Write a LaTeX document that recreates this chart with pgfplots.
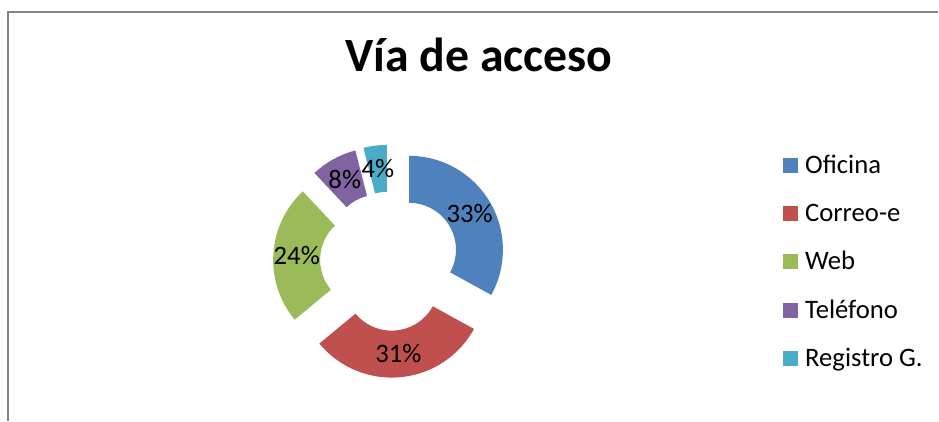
\documentclass[border=0pt]{standalone}
\usepackage{fontspec}
\setmainfont{Carlito}
\usepackage{pgfplots}
\usepackage{pgfplotstable}
\pgfplotsset{compat=1.18}
\definecolor{c0}{HTML}{4F81BD}
\definecolor{c1}{HTML}{C0504D}
\definecolor{c2}{HTML}{9BBB59}
\definecolor{c3}{HTML}{8064A2}
\definecolor{c4}{HTML}{4BACC6}
\definecolor{framegray}{HTML}{868686}
\pgfplotstableread{
value
33
31
24
8
4
}\datatable
\newcommand\lblfont{\fontsize{26.8}{31}\selectfont}
\begin{document}
\begin{tikzpicture}
\begin{axis}[
  scale only axis, width=939bp, height=421bp,
  xmin=0, xmax=939, ymin=0, ymax=421, y dir=reverse,
  hide axis, clip=false,
  title={Vía de acceso},
  title style={at={(0.5107,0.8147)}, anchor=base, font=\fontsize{48}{53}\selectfont\bfseries, inner sep=0pt},
  legend image code/.code={\fill[#1, draw=none] (0bp,-7.5bp) rectangle (15bp,7.5bp);},
  legend cell align=left,
  legend style={at={(axis cs:784,141.5)}, anchor=north west, draw=none, fill=none,
    inner sep=0pt, outer sep=0pt, font=\lblfont, row sep=0pt, column sep=7bp,
    nodes={inner sep=0pt, text height=32.15bp, text depth=16.15bp}},
]
\path (axis cs:0,0) rectangle (axis cs:939,421);
\draw[framegray, line width=2bp] (axis cs:7.7,421) -- (axis cs:7.7,12) -- (axis cs:939,12);
\def\startang{90}
\pgfplotsforeachungrouped \i in {0,...,4}{%
  \pgfplotstablegetelem{\i}{value}\of\datatable
  \let\v=\pgfplotsretval
  \pgfmathsetmacro\endang{\startang-3.6*\v}%
  \pgfmathsetmacro\midang{\startang-1.8*\v}%
  \pgfmathsetmacro\sx{390+22.6*cos(\midang)}%
  \pgfmathsetmacro\sy{261.5-22.6*sin(\midang)}%
  \pgfmathsetmacro\ox{\sx+94*cos(\startang)}%
  \pgfmathsetmacro\oy{\sy-94*sin(\startang)}%
  \pgfmathsetmacro\ix{\sx+47*cos(\endang)}%
  \pgfmathsetmacro\iy{\sy-47*sin(\endang)}%
  \pgfmathsetmacro\lx{\sx+70.5*cos(\midang)}%
  \pgfmathsetmacro\ly{\sy-70.5*sin(\midang)}%
  \edef\temp{\noexpand\fill[c\i] (axis cs:\ox,\oy) arc[start angle=\startang, end angle=\endang, radius=94bp]
     -- (axis cs:\ix,\iy) arc[start angle=\endang, end angle=\startang, radius=47bp] -- cycle;
     \noexpand\node[font=\noexpand\lblfont, inner sep=0pt] at (axis cs:\lx,\ly) {\v\noexpand\%};}%
  \temp
  \let\startang=\endang
}
\addlegendimage{fill=c0}\addlegendentry{Oficina}
\addlegendimage{fill=c1}\addlegendentry{Correo-e}
\addlegendimage{fill=c2}\addlegendentry{Web}
\addlegendimage{fill=c3}\addlegendentry{Teléfono}
\addlegendimage{fill=c4}\addlegendentry{Registro G.}
\end{axis}
\end{tikzpicture}
\end{document}
